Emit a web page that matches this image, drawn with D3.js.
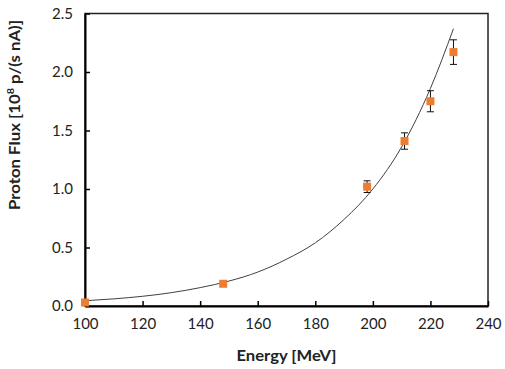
<!DOCTYPE html>
<html>
<head>
<meta charset="utf-8">
<script src="https://cdn.jsdelivr.net/npm/d3@7"></script>
<style>
  body { margin: 0; background: #fff; }
  text { font-family: Lato, "Open Sans", sans-serif; }
</style>
</head>
<body>
<div id="container"></div>
<script>
/* DATA */
const energy = [100, 148, 198, 211, 220, 228]
const flux = [0.03, 0.19, 1.02, 1.41, 1.75, 2.17]
const fluxErr = [0, 0, 0.05, 0.07, 0.09, 0.105]

// fit curve
const fitEnergy = [100, 110, 120, 130, 140, 150, 160, 170, 180, 190, 200, 210, 220, 228]
const fitFlux = [0.045, 0.061, 0.083, 0.114, 0.157, 0.213, 0.29, 0.40, 0.54, 0.74, 1.00, 1.36, 1.86, 2.37]

const xTicks = [100, 120, 140, 160, 180, 200, 220, 240]
const yTicks = [0, 0.5, 1.0, 1.5, 2.0, 2.5]

/* CONSTANTS */
const width = 505,
  height = 369,
  margin = { top: 13.5, bottom: 63, left: 85, right: 17 }

const svg = d3.select('#container')
  .append('svg')
  .attr('width', width)
  .attr('height', height)

const xScale = d3.scaleLinear()
  .domain([100, 240])
  .range([margin.left, width - margin.right])

const yScale = d3.scaleLinear()
  .domain([0, 2.5])
  .range([height - margin.bottom, margin.top])

// frame
svg.append('rect')
  .attr('x', xScale(100))
  .attr('y', yScale(2.5))
  .attr('width', xScale(240) - xScale(100))
  .attr('height', yScale(0) - yScale(2.5))
  .attr('fill', 'none')
  .attr('stroke', '#222')
  .attr('stroke-width', 1.5)

// axes
const xAxis = d3.axisBottom(xScale)
  .tickValues(xTicks)
  .tickSizeInner(-5)
  .tickSizeOuter(0)
  .tickPadding(12)
  .tickFormat(d3.format('d'))

const yAxis = d3.axisLeft(yScale)
  .tickValues(yTicks)
  .tickSizeInner(-5)
  .tickSizeOuter(0)
  .tickPadding(12)
  .tickFormat(d3.format('.1f'))

const gx = svg.append('g')
  .attr('transform', `translate(0, ${yScale(0)})`)
  .call(xAxis)

const gy = svg.append('g')
  .attr('transform', `translate(${xScale(100)}, 0)`)
  .call(yAxis)

;[gx, gy].forEach(g => {
  g.select('.domain').attr('stroke', '#000').attr('stroke-width', 2)
  g.selectAll('.tick line').attr('stroke', '#000').attr('stroke-width', 1.5)
  g.selectAll('.tick text')
    .attr('fill', '#222')
    .style('font-size', '15px')
})

// axis labels
svg.append('text')
  .attr('x', (xScale(100) + xScale(240)) / 2)
  .attr('y', 361)
  .attr('text-anchor', 'middle')
  .attr('textLength', 100)
  .attr('lengthAdjust', 'spacingAndGlyphs')
  .style('font-size', '16px')
  .style('font-weight', 'bold')
  .attr('fill', '#222')
  .text('Energy [MeV]')

const yLabel = svg.append('text')
  .attr('transform', `translate(20, 115) rotate(-90)`)
  .attr('text-anchor', 'middle')
  .attr('textLength', 190)
  .attr('lengthAdjust', 'spacingAndGlyphs')
  .style('font-size', '15.5px')
  .style('font-weight', 'bold')
  .attr('fill', '#222')
yLabel.append('tspan').text('Proton Flux [10')
yLabel.append('tspan').attr('dy', -6).style('font-size', '10px').text('8')
yLabel.append('tspan').attr('dy', 6).text(' p/(s nA)]')

// fit line
const line = d3.line()
  .x((d, i) => xScale(fitEnergy[i]))
  .y(d => yScale(d))
  .curve(d3.curveMonotoneX)

svg.append('path')
  .datum(fitFlux)
  .attr('d', line)
  .attr('fill', 'none')
  .attr('stroke', '#404040')
  .attr('stroke-width', 1)

// error bars
const points = energy.map((e, i) => ({ e, f: flux[i], err: fluxErr[i] }))
const errs = svg.append('g')
  .selectAll('g')
  .data(points.filter(d => d.err > 0))
  .join('g')
  .attr('stroke', '#111')
  .attr('stroke-width', 1)

errs.append('line')
  .attr('x1', d => xScale(d.e)).attr('x2', d => xScale(d.e))
  .attr('y1', d => yScale(d.f - d.err)).attr('y2', d => yScale(d.f + d.err))
errs.append('line')
  .attr('x1', d => xScale(d.e) - 3.5).attr('x2', d => xScale(d.e) + 3.5)
  .attr('y1', d => yScale(d.f - d.err)).attr('y2', d => yScale(d.f - d.err))
errs.append('line')
  .attr('x1', d => xScale(d.e) - 3.5).attr('x2', d => xScale(d.e) + 3.5)
  .attr('y1', d => yScale(d.f + d.err)).attr('y2', d => yScale(d.f + d.err))

// markers
svg.append('g')
  .selectAll('rect')
  .data(points)
  .join('rect')
  .attr('x', d => xScale(d.e) - 4)
  .attr('y', d => yScale(d.f) - 4)
  .attr('width', 8)
  .attr('height', 8)
  .attr('fill', '#ED7D31')
</script>
</body>
</html>
